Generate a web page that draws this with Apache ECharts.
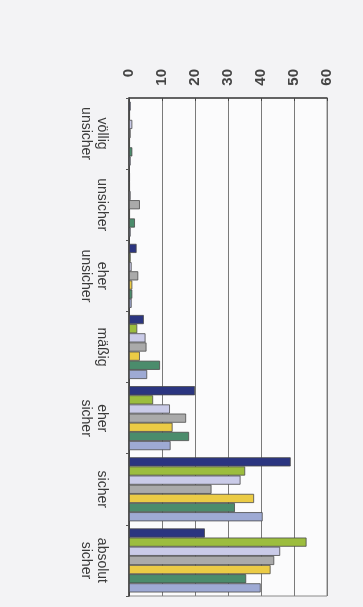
<!DOCTYPE html>
<html>
<head>
<meta charset="utf-8">
<script src="https://cdn.jsdelivr.net/npm/echarts@6/dist/echarts.min.js"></script>
<style>
  html, body { margin: 0; padding: 0; background: #f3f3f5; }
  #chart { width: 363px; height: 607px; }
</style>
</head>
<body>
<div id="chart"></div>
<script>
// Kategorien (von oben nach unten)
var categories = ['völlig\nunsicher', 'unsicher', 'eher\nunsicher', 'mäßig', 'eher\nsicher', 'sicher', 'absolut\nsicher']
var valueTicks = [0, 10, 20, 30, 40, 50, 60]

// sieben Gruppen, Werte in %
var serNavy      = [0.5, 0.3, 2.3, 4.5, 20.0, 49.0, 23.0]
var serGreen     = [0.3, 0.3, 0.5, 2.5, 7.3, 35.2, 53.8]
var serLavender  = [1.0, 0.5, 0.8, 5.0, 12.4, 33.8, 45.8]
var serGray      = [0.5, 3.3, 2.8, 5.3, 17.3, 25.0, 44.0]
var serYellow    = [0.3, 0.3, 1.0, 3.3, 13.2, 37.9, 42.9]
var serTeal      = [1.0, 1.8, 1.0, 9.4, 18.2, 32.1, 35.5]
var serPeriwinkle = [0.5, 0.5, 0.8, 5.5, 12.6, 40.5, 39.9]

var seriesList = [
  {data: serNavy, color: '#2b3580'},
  {data: serGreen, color: '#9cbd3e'},
  {data: serLavender, color: '#cacbe8'},
  {data: serGray, color: '#aaaaaa'},
  {data: serYellow, color: '#ebcb45'},
  {data: serTeal, color: '#4b8c6c'},
  {data: serPeriwinkle, color: '#9eaad4'}
]

var chart = echarts.init(document.getElementById('chart'))

chart.setOption({
  backgroundColor: '#f3f3f5',
  animation: false,
  grid: {
    left: 129,
    right: 36,
    top: 98,
    bottom: 11,
    show: true,
    backgroundColor: '#fbfbfc',
    borderColor: '#8a8a8a',
    borderWidth: 1
  },
  xAxis: {
    type: 'value',
    position: 'top',
    min: 0,
    max: 60,
    interval: 10,
    axisLine: { show: true, lineStyle: { color: '#444', width: 1.5 } },
    axisTick: { show: true, length: 3, inside: true, lineStyle: { color: '#444' } },
    splitLine: { show: true, lineStyle: { color: '#7a7a7a', width: 1 } },
    axisLabel: {
      rotate: -90,
      margin: 29,
      align: 'right',
      verticalAlign: 'middle',
      fontFamily: 'Liberation Sans, Arial, sans-serif',
      fontSize: 15,
      fontWeight: 'bold',
      color: '#444',
      formatter: function (v) { return valueTicks.indexOf(v) >= 0 ? String(v) : '' }
    }
  },
  yAxis: {
    type: 'category',
    inverse: true,
    data: categories,
    axisLine: { show: true, lineStyle: { color: '#333', width: 1.5 } },
    axisTick: { show: true, length: 3, lineStyle: { color: '#555' } },
    axisLabel: {
      rotate: -90,
      margin: 19,
      align: 'center',
      verticalAlign: 'top',
      lineHeight: 16,
      fontFamily: 'Liberation Sans, Arial, sans-serif',
      fontSize: 14,
      color: '#3a3a3a'
    }
  },
  series: seriesList.map(function (s) {
    return {
      type: 'bar',
      data: s.data,
      barGap: '0%',
      barCategoryGap: '10%',
      itemStyle: { color: s.color, borderColor: '#4a4a4a', borderWidth: 0.8 }
    }
  })
})
</script>
</body>
</html>
